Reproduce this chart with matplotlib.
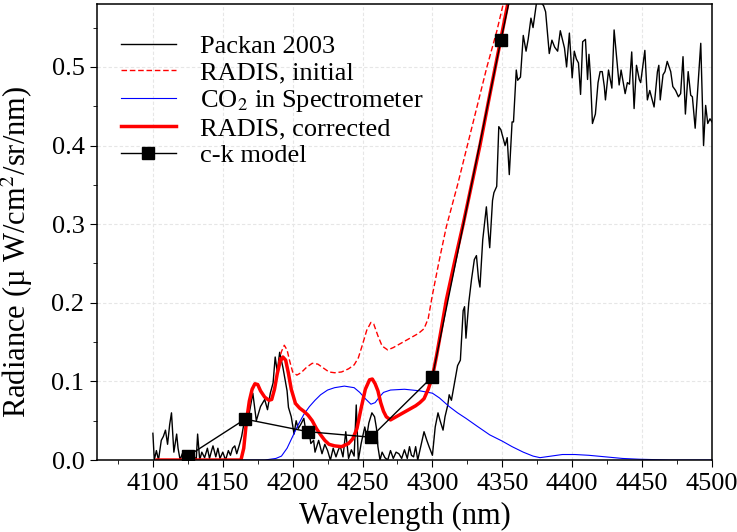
import matplotlib
matplotlib.use("Agg")
import matplotlib.pyplot as plt
from matplotlib.ticker import MultipleLocator

plt.rcParams['font.family'] = ['Liberation Serif', 'DejaVu Serif']
plt.rcParams['mathtext.fontset'] = 'stix'

# Packan 2003 measurement
packan_wl = [4100, 4101, 4102.5, 4104, 4106, 4107.5, 4109, 4110.5, 4112, 4113.3, 4115, 4117, 4118,
             4119.5, 4121, 4123, 4125, 4127, 4129, 4131, 4132, 4133.5, 4135, 4137, 4139, 4140.5,
             4142, 4143, 4145, 4146.5, 4148, 4150, 4152, 4154, 4155.5, 4157, 4158.6, 4160, 4162,
             4163.5, 4165, 4167, 4169, 4171.5, 4174, 4177, 4180, 4182, 4184, 4186, 4187.5, 4189,
             4190.7, 4193, 4196, 4197, 4199, 4201, 4202.5, 4204, 4206, 4208, 4210, 4211.5, 4213,
             4215, 4216, 4218.6, 4221, 4223, 4225, 4227, 4229, 4231, 4232.5, 4234, 4236, 4238,
             4240, 4242, 4244, 4245.5, 4247, 4249, 4251.6, 4253, 4254.5, 4256.7, 4258.6, 4260,
             4261, 4262.5, 4264, 4266, 4268, 4270, 4272, 4274, 4276, 4278, 4280, 4282, 4283.6,
             4285, 4286.5, 4288, 4289.5, 4292, 4294, 4296, 4297.6, 4300, 4302, 4304, 4305.5,
             4307.6, 4309, 4311, 4312, 4313.6, 4316, 4318, 4320, 4322, 4323, 4324, 4326, 4328,
             4330, 4331.5, 4333, 4334, 4336, 4338.6, 4340, 4341, 4343, 4344, 4346, 4347.5, 4349,
             4350.5, 4352, 4353.5, 4355, 4357, 4358, 4360, 4361, 4363, 4365, 4367, 4368.5,
             4370.5, 4372, 4374, 4375.5, 4377, 4378.5, 4379.5, 4381, 4383.6, 4385.5, 4387.5,
             4389.6, 4391.5, 4393, 4394.5, 4396, 4398, 4400, 4401.5, 4403, 4404.5, 4406, 4407.5,
             4409.5, 4411, 4412, 4413, 4414.5, 4416.6, 4418.5, 4420, 4421.5, 4423, 4423.8, 4426,
             4428.4, 4430, 4432.4, 4433.6, 4435, 4437.9, 4439.5, 4441, 4442.6, 4444.3, 4446,
             4448, 4449, 4452, 4453.8, 4455.5, 4458.6, 4461, 4462, 4463, 4465, 4466.4, 4468,
             4470.5, 4472, 4474, 4476, 4477.6, 4479.3, 4481, 4483, 4484.8, 4486, 4488, 4490,
             4492, 4494, 4495.5, 4497, 4498.6, 4500]
packan_rad = [0.034, 0.0, 0.012, 0.0, 0.025, 0.03, 0.038, 0.02, 0.045, 0.06, 0.01, 0.033, 0.015,
              0.0, 0.008, 0.0, 0.004, 0.0, 0.006, 0.0, 0.033, 0.0, 0.01, 0.003, 0.015, 0.002,
              0.012, 0.018, 0.004, 0.015, 0.002, 0.01, 0.0, 0.012, 0.006, 0.015, 0.018, 0.008, 0.02,
              0.03, 0.045, 0.052, 0.06, 0.085, 0.05, 0.068, 0.077, 0.064, 0.085, 0.098, 0.131, 0.112,
              0.137, 0.118, 0.088, 0.067, 0.055, 0.033, 0.05, 0.04, 0.046, 0.053, 0.03, 0.04, 0.021,
              0.025, 0.01, 0.025, 0.008, 0.02, 0.012, 0.0, 0.015, 0.004, 0.012, 0.018, 0.004, 0.036,
              0.002, 0.013, 0.005, 0.07, 0.0, 0.021, 0.042, 0.03, 0.047, 0.06, 0.055, 0.04,
              0.017, 0.0, 0.01, 0.003, 0.0, 0.012, 0.002, 0.01, 0.008, 0.002, 0.013, 0.002, 0.017,
              0.006, 0.004, 0.017, 0.0, 0.02, 0.036, 0.025, 0.017, 0.006, 0.042, 0.06, 0.05,
              0.038, 0.055, 0.07, 0.083, 0.076, 0.1, 0.12, 0.127, 0.19, 0.195, 0.155, 0.2, 0.23,
              0.255, 0.26, 0.23, 0.22, 0.28, 0.322, 0.29, 0.27, 0.33, 0.34, 0.348, 0.424, 0.42,
              0.41, 0.40, 0.41, 0.363, 0.43, 0.43, 0.496, 0.483, 0.487, 0.54, 0.52, 0.535,
              0.562, 0.55, 0.575, 0.595, 0.60, 0.58, 0.578, 0.57, 0.517, 0.534, 0.525,
              0.52, 0.546, 0.535, 0.524, 0.50, 0.543, 0.486, 0.52, 0.51, 0.505, 0.465, 0.532,
              0.535, 0.484, 0.516, 0.49, 0.428, 0.44, 0.48, 0.494, 0.494, 0.475, 0.458, 0.496,
              0.473, 0.547, 0.50, 0.477, 0.496, 0.466, 0.48, 0.478, 0.519, 0.447, 0.502,
              0.484, 0.48, 0.521, 0.458, 0.47, 0.449, 0.494, 0.502, 0.458, 0.49, 0.494, 0.507,
              0.494, 0.475, 0.47, 0.462, 0.466, 0.513, 0.44, 0.494, 0.464, 0.462, 0.422, 0.477,
              0.53, 0.40, 0.451, 0.428, 0.434, 0.43]

# RADIS, initial (dashed)
init_wl = [4103, 4163, 4165, 4167, 4169, 4171, 4173, 4175, 4177, 4180, 4183, 4185, 4187, 4189,
           4190, 4192, 4194, 4196, 4198, 4200, 4203, 4206, 4210, 4214, 4218, 4222, 4226, 4230,
           4235, 4240, 4244, 4247, 4250, 4253, 4256, 4258, 4261, 4264, 4268, 4272, 4278, 4284,
           4290, 4294, 4297, 4300, 4305, 4310, 4318, 4325, 4332, 4339, 4346, 4352]
init_rad = [0.0, 0.0, 0.015, 0.05, 0.075, 0.09, 0.097, 0.096, 0.088, 0.08, 0.076, 0.077, 0.09,
            0.112, 0.125, 0.138, 0.146, 0.14, 0.125, 0.112, 0.108, 0.111, 0.118, 0.123, 0.122,
            0.117, 0.112, 0.111, 0.112, 0.116, 0.121, 0.13, 0.147, 0.165, 0.175, 0.173, 0.158,
            0.145, 0.14, 0.143, 0.149, 0.155, 0.161, 0.167, 0.18, 0.21, 0.255, 0.297, 0.35,
            0.40, 0.45, 0.5, 0.545, 0.59]

# CO2 in spectrometer
co2_wl = [4160, 4180, 4188, 4192, 4196, 4200, 4204, 4208, 4212, 4216, 4220, 4225, 4230, 4237,
          4244, 4248, 4252, 4256, 4259, 4262, 4265, 4270, 4280, 4291, 4300, 4305, 4312, 4318,
          4324, 4332, 4341, 4350, 4357, 4365, 4372, 4377, 4385, 4393, 4402, 4412, 4424, 4436,
          4448, 4470, 4500]
co2_rad = [0.0, 0.0, 0.002, 0.005, 0.015, 0.03, 0.045, 0.058, 0.068, 0.076, 0.083, 0.089, 0.092,
           0.094, 0.092, 0.086, 0.078, 0.071, 0.073, 0.08, 0.086, 0.089, 0.09, 0.088, 0.085,
           0.079, 0.068, 0.06, 0.053, 0.043, 0.032, 0.024, 0.017, 0.01, 0.005, 0.003, 0.005,
           0.007, 0.007, 0.006, 0.004, 0.002, 0.001, 0.0, 0.0]

# RADIS, corrected (thick)
corr_wl = [4103, 4163, 4165, 4167, 4169, 4171, 4173, 4175, 4177, 4180, 4183, 4185, 4187, 4189,
           4191, 4193, 4195, 4197, 4199, 4202, 4205, 4208, 4211, 4214, 4217, 4220, 4223, 4226,
           4230, 4235, 4240, 4243, 4246, 4249, 4252, 4255, 4257, 4259, 4261, 4263, 4265, 4267,
           4270, 4276, 4280, 4284, 4288, 4291, 4294, 4297, 4300, 4303, 4306, 4310, 4316, 4322,
           4328, 4334, 4340, 4345, 4350, 4355]
corr_rad = [0.0, 0.0, 0.015, 0.05, 0.075, 0.09, 0.097, 0.096, 0.088, 0.08, 0.076, 0.077, 0.09,
            0.11, 0.125, 0.131, 0.127, 0.11, 0.09, 0.072, 0.066, 0.062, 0.057, 0.05, 0.04, 0.032,
            0.025, 0.02, 0.018, 0.017, 0.021, 0.027, 0.04, 0.066, 0.09, 0.102, 0.103, 0.097,
            0.088, 0.073, 0.062, 0.055, 0.051, 0.057, 0.061, 0.065, 0.069, 0.073, 0.078, 0.09,
            0.106, 0.133, 0.163, 0.204, 0.253, 0.30, 0.35, 0.40, 0.455, 0.5, 0.545, 0.59]

# c-k model
ck_wl = [4125, 4166, 4211, 4256, 4300, 4349, 4400]
ck_rad = [0.005, 0.052, 0.036, 0.029, 0.106, 0.534, 0.96]

fig = plt.figure(figsize=(7.37, 5.32), dpi=100)
ax = fig.add_axes([0.1316, 0.1353, 0.8344, 0.8572])

ax.plot(packan_wl, packan_rad, color='black', lw=1.0, label='Packan 2003')
ax.plot(init_wl, init_rad, color='red', lw=1.0, ls=(0, (4, 2)), label='RADIS, initial')
ax.plot(co2_wl, co2_rad, color='blue', lw=0.8, label='CO$_2$ in Spectrometer')
ax.plot(corr_wl, corr_rad, color='red', lw=2.5, label='RADIS, corrected')
ax.plot(ck_wl, ck_rad, color='black', lw=1.0, marker='s', ms=8, label='c-k model')

ax.set_xlim(4060, 4500)
ax.set_ylim(0, 0.58)
ax.xaxis.set_minor_locator(MultipleLocator(25))
ax.yaxis.set_major_locator(MultipleLocator(0.1))
ax.yaxis.set_minor_locator(MultipleLocator(0.05))
ax.set_xticks([4100, 4150, 4200, 4250, 4300, 4350, 4400, 4450, 4500])
ax.yaxis.set_major_formatter(matplotlib.ticker.FormatStrFormatter('%.1f'))
ax.tick_params(which='major', direction='out', length=5, labelsize=19, top=False, right=False,
               pad=4)
ax.tick_params(which='minor', direction='out', length=3, top=False, right=False)
for s in ax.spines.values():
    s.set_linewidth(1.1)
ax.grid(True, which='major', color='#e6e6e6', ls=(0, (3, 2)), lw=0.8)
ax.set_axisbelow(True)

ax.set_xlabel('Wavelength (nm)', fontsize=22, labelpad=5)
ax.set_ylabel('Radiance (µ W/cm$^2$/sr/nm)', fontsize=22)
ax.yaxis.set_label_coords(-0.10, 0.456)

ax.legend(loc='upper left', frameon=False, fontsize=19, handlelength=2.1, handletextpad=0.9,
          labelspacing=0.12, bbox_to_anchor=(0.0, 0.985), borderaxespad=0.5)

fig.savefig('out.png', dpi=100)
